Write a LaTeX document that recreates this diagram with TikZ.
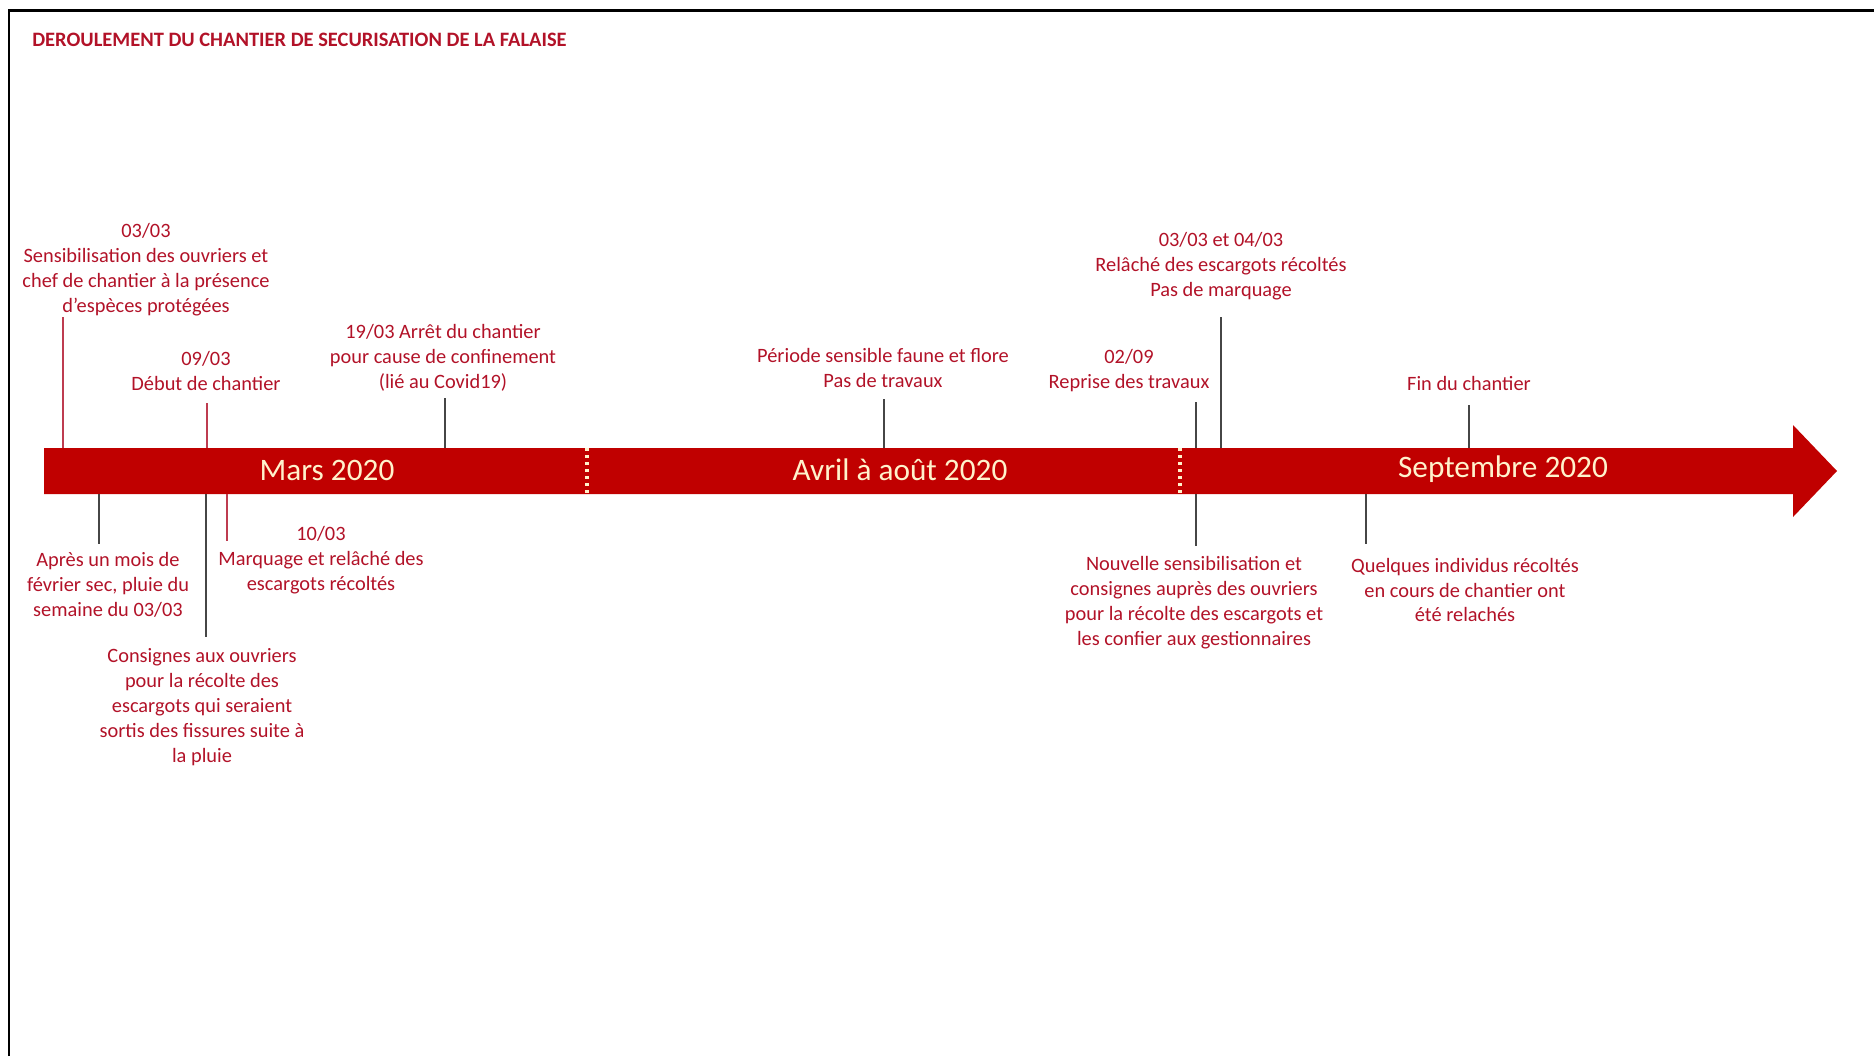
\documentclass[tikz,border=0pt]{standalone}
\usepackage{fontspec}
\setmainfont{Carlito}
\definecolor{barred}{RGB}{192, 0, 0}
\definecolor{txtred}{RGB}{178, 18, 40}
\definecolor{tickred}{RGB}{190, 60, 80}
\definecolor{tickgrey}{RGB}{70, 70, 70}
\definecolor{cream}{RGB}{255, 242, 204}

\begin{document}
\begin{tikzpicture}[x=0.02cm, y=-0.02cm,
    evt/.style={align=center, inner sep=0pt, text=txtred, font=\fontsize{11.6}{14.2}\selectfont},
    month/.style={inner sep=0pt, text=cream, font=\fontsize{17.8}{20}\selectfont},
    redtick/.style={draw=tickred, line width=0.8pt},
    greytick/.style={draw=tickgrey, line width=0.8pt},
    sep/.style={draw=cream, line width=1.8pt, dash pattern=on 1.8pt off 2.2pt}]
    \useasboundingbox (0,0) rectangle (1874,1056);
    \draw[line width=1.7pt] (9,1056) -- (9,10) -- (1874,10);

    \node[anchor=west, inner sep=0pt, text=txtred, font=\fontsize{11.65}{14}\selectfont\bfseries] (title) at (32,40) {DEROULEMENT DU CHANTIER DE SECURISATION DE LA FALAISE};

    \fill[barred] (44,448) -- (1793,448) -- (1793,425) -- (1837,471) -- (1793,517) -- (1793,494) -- (44,494) -- cycle;
    \coordinate (bartop) at (0,448);
    \coordinate (barbot) at (0,494);
    \draw[sep] (587,448) -- (587,494);
    \draw[sep] (1180,448) -- (1180,494);

    \node[month] (mars) at (327,470) {Mars 2020};
    \node[month] (avril) at (900,470) {Avril à août 2020};
    \node[month] (sept) at (1503,469) {Septembre 2020};

    \node[evt] (e1) at (146,270) {03/03\\Sensibilisation des ouvriers et\\chef de chantier à la présence\\d’espèces protégées};
    \node[evt] (e2) at (206,371) {09/03\\Début de chantier};
    \node[evt] (e3) at (443,358) {19/03 Arrêt du chantier\\pour cause de confinement\\(lié au Covid19)};
    \node[evt] (e4) at (883,368) {Période sensible faune et flore\\Pas de travaux};
    \node[evt] (e5) at (1129,371) {02/09\\Reprise des travaux};
    \node[evt] (e6) at (1221,266) {03/03 et 04/03\\Relâché des escargots récoltés\\Pas de marquage};
    \node[evt] (e7) at (1469,383) {Fin du chantier};

    \node[evt] (e8) at (108,585) {Après un mois de\\février sec, pluie du\\semaine du 03/03};
    \node[evt] (e9) at (202,707) {Consignes aux ouvriers\\pour la récolte des\\escargots qui seraient\\sortis des fissures suite à\\la pluie};
    \node[evt] (e10) at (321,560) {10/03\\Marquage et relâché des\\escargots récoltés};
    \node[evt] (e11) at (1194,603) {Nouvelle sensibilisation et\\consignes auprès des ouvriers\\pour la récolte des escargots et\\les confier aux gestionnaires};
    \node[evt] (e12) at (1465,590) {Quelques individus récoltés\\en cours de chantier ont\\été relachés};

    \coordinate (t1) at (63,317);
    \coordinate (t2) at (207,403);
    \coordinate (t3) at (445,398);
    \coordinate (t4) at (884,399);
    \coordinate (t5) at (1196,402);
    \coordinate (t6) at (1221,317);
    \coordinate (t7) at (1469,405);
    \coordinate (t8) at (99,544);
    \coordinate (t9) at (206,637);
    \coordinate (t10) at (227,541);
    \coordinate (t11) at (1196,546);
    \coordinate (t12) at (1366,544);

    \draw[redtick] (t1) -- (t1 |- bartop);
    \draw[redtick] (t2) -- (t2 |- bartop);
    \draw[greytick] (t3) -- (t3 |- bartop);
    \draw[greytick] (t4) -- (t4 |- bartop);
    \draw[greytick] (t5) -- (t5 |- bartop);
    \draw[greytick] (t6) -- (t6 |- bartop);
    \draw[greytick] (t7) -- (t7 |- bartop);
    \draw[greytick] (t8 |- barbot) -- (t8);
    \draw[greytick] (t9 |- barbot) -- (t9);
    \draw[redtick] (t10 |- barbot) -- (t10);
    \draw[greytick] (t11 |- barbot) -- (t11);
    \draw[greytick] (t12 |- barbot) -- (t12);
\end{tikzpicture}
\end{document}
